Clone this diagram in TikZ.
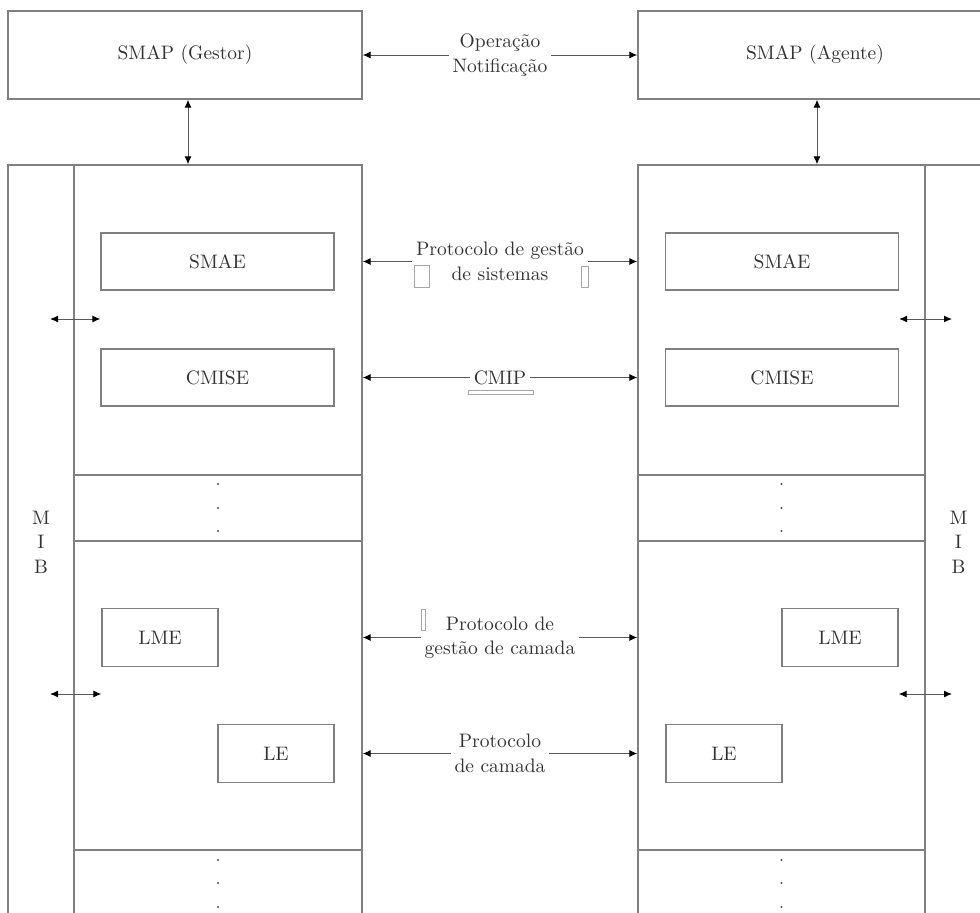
\documentclass[tikz,border=0pt]{standalone}
\usepackage{fontspec}
\setmainfont{lmroman10-regular.otf}
\usetikzlibrary{arrows.meta}
\newcommand\lbl{\fontsize{19.5}{24.5}\selectfont}
\begin{document}
\begin{tikzpicture}[x=1pt,y=-1pt,
  box/.style={draw=black!50, line width=1.4pt, rectangle, inner sep=0pt,
    font=\lbl, text=black!80},
  lnk/.style={draw=black!65, line width=1pt,
    {Latex[length=8pt,width=7pt,color=black]}-{Latex[length=8pt,width=7pt,color=black]}},
  tag/.style={fill=white, inner sep=4pt, align=center, font=\lbl, text=black!80},
  rule/.style={draw=black!50, line width=1.4pt},
  ghost/.style={draw=black!35, line width=0.9pt},
  dot/.style={fill=black!70}
]
\useasboundingbox (0,0) rectangle (980,913);
\fill[white] (0,0) rectangle (980,913);
\clip (0,0) rectangle (980,913);

% management processes
\node[box, minimum width=354pt, minimum height=88pt] (gestor) at (185,55) {SMAP (Gestor)};
\node[box, minimum width=354pt, minimum height=88pt] (agente) at (815,55) {SMAP (Agente)};

% protocol stacks
\node[box, minimum width=354pt, minimum height=795pt] (stackL) at (185,562.5) {};
\node[box, minimum width=354pt, minimum height=795pt] (stackR) at (815,562.5) {};

% MIB columns and layer separators
\draw[rule] (74,165) -- (74,960);
\draw[rule] (925,165) -- (925,960);
\foreach \yy in {475,541,850} {
  \draw[rule] (74,\yy) -- (362,\yy);
  \draw[rule] (638,\yy) -- (925,\yy);
}
\foreach \yy in {484,508,531,860,883,907} {
  \fill[dot] (218,\yy) circle (1.2pt);
  \fill[dot] (781.5,\yy) circle (1.2pt);
}
\node[font=\lbl, text=black!80, align=center] (mibL) at (41,542) {M\\I\\B};
\node[font=\lbl, text=black!80, align=center] (mibR) at (958.5,542) {M\\I\\B};

% entities
\node[box, minimum width=233pt, minimum height=57pt] (smaeL) at (217.5,261.5) {SMAE};
\node[box, minimum width=233pt, minimum height=57pt] (cmiseL) at (217.5,377.5) {CMISE};
\node[box, minimum width=116pt, minimum height=58pt] (lmeL) at (160,637.5) {LME};
\node[box, minimum width=116pt, minimum height=58pt] (leL) at (276,753.5) {LE};
\node[box, minimum width=233pt, minimum height=57pt] (smaeR) at (782,261.5) {SMAE};
\node[box, minimum width=233pt, minimum height=57pt] (cmiseR) at (782,377.5) {CMISE};
\node[box, minimum width=116pt, minimum height=58pt] (lmeR) at (840,637.5) {LME};
\node[box, minimum width=116pt, minimum height=58pt] (leR) at (724,753.5) {LE};

% vertical links
\draw[lnk] ([xshift=3pt]gestor.south) -- ([xshift=3pt]stackL.north);
\draw[lnk] ([xshift=2pt]agente.south) -- ([xshift=2pt]stackR.north);

% peer protocols
\draw[lnk] (gestor) -- node[tag] {Operação\\Notificação} (agente);
\draw[lnk] (stackL.east |- smaeL) -- node[tag] {Protocolo de gestão\\de sistemas} (stackR.west |- smaeR);
\draw[lnk] (stackL.east |- cmiseL) -- node[tag] {CMIP} (stackR.west |- cmiseR);
\draw[lnk] (stackL.east |- lmeL) -- node[tag] {Protocolo de\\gestão de camada} (stackR.west |- lmeR);
\draw[lnk] (stackL.east |- leL) -- node[tag] {Protocolo\\de camada} (stackR.west |- leR);

% MIB access
\coordinate (mA) at (50,319);
\coordinate (mB) at (50,694);
\coordinate (mC) at (952,319);
\coordinate (mD) at (952,694);
\draw[lnk] (mA) -- (smaeL.west |- mA);
\draw[lnk] (mB) -- (lmeL.west |- mB);
\draw[lnk] (smaeR.east |- mC) -- (mC);
\draw[lnk] (lmeR.east |- mD) -- (mD);

% small outlined marks
\draw[ghost] (414,265) rectangle (429,287);
\draw[ghost] (581,266) rectangle (588,287);
\draw[ghost] (468,390) rectangle (533,394);
\draw[ghost] (421,609) rectangle (425,630);
\end{tikzpicture}
\end{document}
